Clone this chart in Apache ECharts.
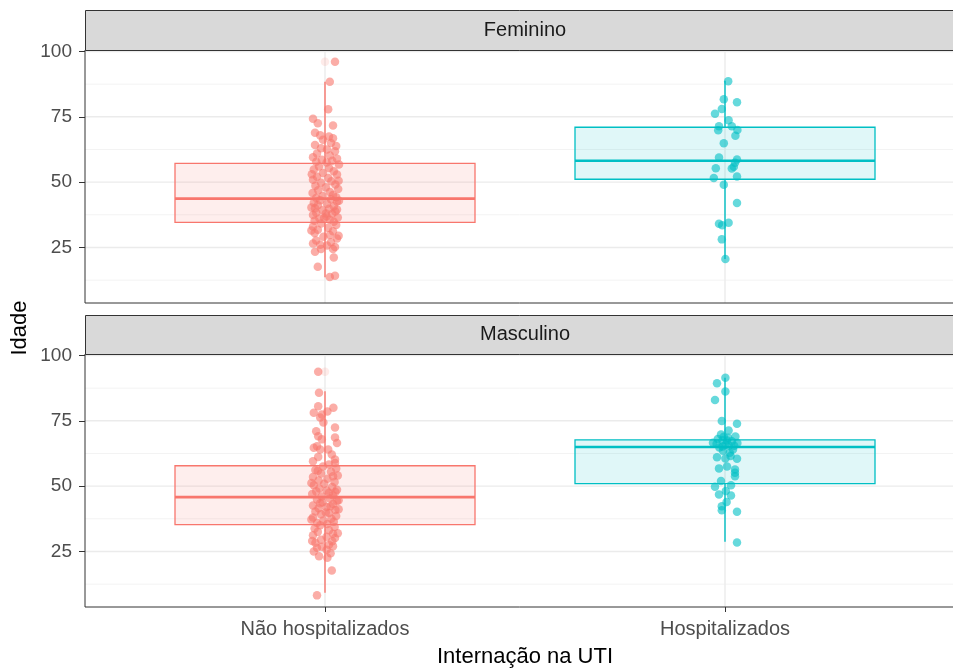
<!DOCTYPE html>
<html>
<head>
<meta charset="utf-8">
<script src="https://cdn.jsdelivr.net/npm/echarts@6/dist/echarts.min.js"></script>
<style>
  html, body { margin: 0; padding: 0; background: #fff; }
  #chart { width: 953px; height: 668px; }
</style>
</head>
<body>
<div id="chart"></div>
<script>
// categories / facets / ticks
var categories = ['Não hospitalizados', 'Hospitalizados'];
var facets = ['Feminino', 'Masculino'];
var yTicks = [25, 50, 75, 100];
var yMinor = [12.5, 37.5, 62.5, 87.5];

// box stats: [q1, median, q3, lower whisker, upper whisker]
var boxFemNao = [34.6, 43.7, 57.2, 13.6, 88.4];
var boxFemHosp = [51.1, 58.2, 71.0, 20.6, 88.8];
var boxMascNao = [35.3, 45.8, 57.8, 9.2, 86.3];
var boxMascHosp = [51.0, 65.0, 67.7, 28.7, 91.5];

// boxplot outliers
var outFemNao = [96.1];
var outMascNao = [93.8];

// jittered points: [horizontal jitter, idade]
var ptsFemNao = [
  [0.025, 96.1], [0.012, 88.4], [0.008, 77.9], [-0.03, 74.3], [-0.018, 72.5], [0.02, 71.7], [-0.025, 68.9],
  [0.01, 67.5], [0.02, 66.8], [-0.005, 66.2], [0.015, 65], [-0.025, 64.2], [-0.01, 63], [0.005, 62.5],
  [0.025, 61.8], [-0.02, 61], [0.012, 60.2], [-0.03, 59.5], [0.03, 59], [-0.008, 58.6], [0.018, 58.2],
  [-0.022, 57.8], [0.004, 57.5], [-0.012, 67.9], [0.028, 63.8],
  [0.035, 56.8], [-0.015, 56], [0.01, 55.4], [-0.028, 54.8], [0.022, 54.2], [-0.005, 53.5], [0.03, 52.9],
  [-0.02, 52.1], [0.008, 51.6], [-0.03, 50.9], [0.016, 50.3], [-0.01, 49.8], [0.026, 49.1], [-0.024, 48.6],
  [0.002, 48], [0.033, 47.4], [-0.017, 46.9], [0.012, 46.2], [-0.031, 45.8], [0.02, 45.1], [-0.006, 44.7],
  [0.028, 44.2], [-0.022, 43.9], [0.034, 50.5], [-0.033, 53],
  [0.015, 43.5], [-0.012, 43.1], [0.03, 42.6], [-0.028, 42.1], [0.005, 41.7], [-0.018, 41.2], [0.022, 40.8],
  [-0.034, 40.3], [0.01, 39.8], [-0.006, 39.2], [0.026, 38.8], [-0.022, 38.3], [0.018, 37.9], [-0.03, 37.4],
  [0.004, 36.9], [0.032, 36.5], [-0.014, 36.1], [0.012, 35.6], [-0.026, 35.2], [0.022, 34.8], [0.035, 42.9],
  [-0.025, 40], [0.002, 38], [-0.002, 36.3], [0.03, 39.5],
  [-0.01, 34.2], [0.028, 33.6], [-0.03, 33], [0.008, 32.5], [-0.018, 31.8], [0.02, 31.2], [-0.026, 30.5],
  [0.012, 29.8], [-0.004, 29.1], [0.03, 28.4], [-0.022, 27.7], [0.015, 27], [-0.03, 26.5], [0.005, 25.8],
  [0.025, 25.2], [-0.01, 24.4], [0.02, 24.4], [-0.025, 23.4], [0.022, 21.2], [-0.018, 17.6], [0.012, 13.7],
  [0.025, 14.2], [0.034, 29.5], [-0.034, 31.5], [-0.012, 26]
];
var ptsFemHosp = [
  [0.008, 88.6], [-0.003, 81.7], [0.03, 80.6], [-0.008, 78], [-0.025, 76.2], [0.009, 73.7], [0.017, 71.4],
  [-0.015, 71.4], [0.031, 70], [-0.017, 69.9], [0.026, 67.8], [-0.003, 64.9], [-0.015, 59.4], [0.03, 58.7],
  [0.025, 57.4], [0.022, 55.9], [0.017, 55.2], [-0.023, 55.3], [-0.028, 51.6], [0.03, 52.2], [-0.003, 49],
  [0.03, 42], [-0.015, 34.1], [-0.007, 33.5], [0.009, 34.5], [-0.008, 28.1], [0.001, 20.6]
];
var ptsMascNao = [
  [-0.017, 93.8], [-0.015, 85.7], [-0.017, 80.6], [0.006, 78.6], [0.021, 80], [-0.028, 78.1], [-0.008, 77.4],
  [-0.012, 76.3], [-0.004, 74.4], [0.025, 72.4], [0.025, 68.6], [-0.017, 69.1], [-0.008, 67.9], [-0.02, 65.3],
  [-0.028, 64.7], [-0.012, 64], [-0.017, 61.2], [0.008, 64], [0.017, 62.1], [0.025, 60.2], [0.025, 58.9],
  [-0.03, 59.5], [0.01, 58.3], [0.03, 66.5], [-0.022, 71],
  [-0.005, 57.5], [0.028, 56.8], [-0.024, 56.2], [0.015, 55.5], [-0.01, 54.8], [0.032, 54.1], [-0.03, 53.5],
  [0.006, 52.8], [-0.016, 52.2], [0.024, 51.6], [-0.002, 50.9], [-0.028, 50.3], [0.018, 49.7], [-0.014, 49.1],
  [0.03, 48.6], [-0.022, 48], [0.01, 47.5], [-0.032, 47], [0.02, 46.5], [-0.008, 46], [0.02, 53.8],
  [-0.034, 51.2], [0.004, 48.3], [-0.018, 55.9], [0.026, 47.8],
  [0.012, 45.4], [-0.02, 44.9], [0.03, 44.3], [-0.006, 43.8], [0.02, 43.2], [-0.03, 42.6], [0.004, 42],
  [-0.016, 41.5], [0.026, 40.9], [-0.024, 40.3], [0.01, 39.7], [-0.01, 39.2], [0.028, 38.6], [-0.03, 38],
  [0.016, 37.5], [-0.004, 36.9], [0.022, 36.4], [-0.02, 35.9], [0.006, 35.5], [0.034, 44.6], [0.034, 41.2],
  [-0.034, 37.2], [-0.012, 43.5], [0.002, 39.9], [0.014, 42.3],
  [-0.012, 35], [0.024, 34.4], [-0.026, 33.8], [0.01, 33.1], [-0.018, 32.5], [0.02, 31.8], [-0.03, 31.2],
  [0.004, 30.6], [0.025, 30.2], [-0.01, 29.5], [0.018, 28.9], [-0.024, 28.3], [0.01, 27.6], [0.02, 27],
  [-0.02, 26.4], [0.004, 25.7], [-0.028, 25], [0.014, 24.3], [-0.015, 23.2], [0.006, 22.6], [0.017, 17.7],
  [-0.02, 8.2], [0.032, 32], [-0.032, 29], [-0.008, 26.8]
];
var ptsMascHosp = [
  [0.001, 91.5], [-0.02, 89.4], [0.001, 86.2], [-0.025, 83], [-0.008, 74.9], [0.03, 73.9], [0.009, 71.3],
  [-0.01, 69.8], [-0.003, 68.9], [0.008, 68.5], [0.026, 69], [-0.018, 68], [-0.006, 67.6], [0.005, 67.5],
  [0.017, 67.2], [-0.03, 66.6], [0.031, 66.5], [-0.021, 66.2], [0.001, 65.8], [0.01, 65.6], [-0.006, 65.2],
  [0.023, 65.5], [-0.014, 64.8], [0.02, 64], [-0.005, 63.5], [0.012, 62.8], [-0.02, 61.1], [0.001, 60.6],
  [0.014, 61.5], [0.03, 60.5], [-0.015, 56.8], [0.025, 56.4], [0.025, 55.1], [0.025, 53.8], [-0.025, 49.8],
  [0.015, 50.3], [-0.015, 46.8], [0.002, 48.1], [0.015, 46.4], [-0.008, 42.3], [-0.008, 40.8], [0.004, 43.9],
  [0.03, 40.2], [0.03, 28.4], [0.005, 57.5], [-0.01, 52]
];

var colors = ['#F8766D', '#00BFC4'];
var fills = ['rgba(248,118,109,0.12)', 'rgba(0,191,196,0.12)'];
var FONT = '"Liberation Sans", Arial, sans-serif';
var Y_MIN = 3.75, Y_MAX = 100.57, X_MIN = 0.4, X_MAX = 2.6;
var PANEL_TOP = [50, 354], PANEL_H = 253, PANEL_L = 85, PANEL_W = 880;

var panels = [
  { boxes: [boxFemNao, boxFemHosp], outliers: [outFemNao, []], pts: [ptsFemNao, ptsFemHosp] },
  { boxes: [boxMascNao, boxMascHosp], outliers: [outMascNao, []], pts: [ptsMascNao, ptsMascHosp] }
];

var chart = echarts.init(document.getElementById('chart'));

var grids = [], xAxes = [], yAxes = [], series = [], graphics = [];

panels.forEach(function (p, gi) {
  grids.push({
    left: PANEL_L, top: PANEL_TOP[gi], width: PANEL_W, height: PANEL_H,
    outerBoundsMode: 'none', containLabel: false,
    show: true, borderColor: '#333333', borderWidth: 1, backgroundColor: 'transparent', z: 5
  });
  xAxes.push({
    type: 'value', gridIndex: gi, min: X_MIN, max: X_MAX,
    splitLine: { show: false }, axisLine: { show: false },
    axisTick: { show: gi === 1, customValues: [1, 2], length: 5, lineStyle: { color: '#333' } },
    axisLabel: {
      show: gi === 1, customValues: [1, 2], margin: 12,
      color: '#4d4d4d', fontSize: 20, fontFamily: FONT,
      formatter: function (v) { return categories[Math.round(v) - 1]; }
    },
    name: gi === 1 ? 'Internação na UTI' : '', nameLocation: 'middle', nameGap: 39,
    nameTextStyle: { color: '#000', fontSize: 22, fontFamily: FONT }
  });
  yAxes.push({
    type: 'value', gridIndex: gi, min: Y_MIN, max: Y_MAX,
    splitLine: { show: false }, axisLine: { show: false },
    axisTick: { show: true, customValues: yTicks, length: 6, lineStyle: { color: '#333' } },
    axisLabel: { customValues: yTicks, margin: 13, color: '#4d4d4d', fontSize: 19, fontFamily: FONT }
  });

  // background grid lines
  var gl = [];
  yMinor.forEach(function (v) { gl.push([0, v, 0]); });
  yTicks.forEach(function (v) { gl.push([0, v, 1]); });
  [1, 2].forEach(function (c) { gl.push([1, c, 1]); });
  series.push({
    type: 'custom', xAxisIndex: gi, yAxisIndex: gi, silent: true, z: 1,
    data: gl,
    renderItem: function (params, api) {
      var kind = api.value(0), v = api.value(1), major = api.value(2);
      var a, b;
      if (kind === 0) { a = api.coord([X_MIN, v]); b = api.coord([X_MAX, v]); }
      else { a = api.coord([v, Y_MIN]); b = api.coord([v, Y_MAX]); }
      return {
        type: 'line',
        shape: { x1: a[0], y1: a[1], x2: b[0], y2: b[1] },
        style: { stroke: major ? '#ebebeb' : '#f3f3f3', lineWidth: major ? 1.4 : 1 }
      };
    }
  });

  p.pts.forEach(function (pts, ci) {
    series.push({
      type: 'scatter', xAxisIndex: gi, yAxisIndex: gi, z: 3, silent: true,
      symbolSize: 8.5,
      itemStyle: { color: colors[ci], opacity: 0.6 },
      data: pts.map(function (d) { return [ci + 1 + d[0], d[1]]; })
    });
    series.push({
      type: 'scatter', xAxisIndex: gi, yAxisIndex: gi, z: 2, silent: true,
      symbolSize: 8.5,
      itemStyle: { color: colors[ci], opacity: 0.15 },
      data: p.outliers[ci].map(function (v) { return [ci + 1, v]; })
    });
  });

  series.push({
    type: 'custom', xAxisIndex: gi, yAxisIndex: gi, z: 4, silent: true,
    data: p.boxes.map(function (b, ci) { return [ci + 1, b[0], b[1], b[2], b[3], b[4], ci]; }),
    renderItem: function (params, api) {
      var x = api.value(0), q1 = api.value(1), med = api.value(2), q3 = api.value(3);
      var lo = api.value(4), hi = api.value(5), ci = api.value(6);
      var tl = api.coord([x - 0.375, q3]), br = api.coord([x + 0.375, q1]);
      var mL = api.coord([x - 0.375, med]), mR = api.coord([x + 0.375, med]);
      var wHi = api.coord([x, hi]), wLo = api.coord([x, lo]);
      var c = colors[ci];
      return {
        type: 'group',
        children: [
          { type: 'line', shape: { x1: wHi[0], y1: wHi[1], x2: wHi[0], y2: tl[1] }, style: { stroke: c, lineWidth: 1.4 } },
          { type: 'line', shape: { x1: wLo[0], y1: br[1], x2: wLo[0], y2: wLo[1] }, style: { stroke: c, lineWidth: 1.4 } },
          { type: 'rect', shape: { x: tl[0], y: tl[1], width: br[0] - tl[0], height: br[1] - tl[1] },
            style: { fill: fills[ci], stroke: c, lineWidth: 1.3 } },
          { type: 'line', shape: { x1: mL[0], y1: mL[1], x2: mR[0], y2: mR[1] }, style: { stroke: c, lineWidth: 2.6 } }
        ]
      };
    }
  });

  // facet strip
  var stripTop = gi === 0 ? 10 : 315;
  var stripH = PANEL_TOP[gi] - stripTop;
  graphics.push({
    type: 'rect', left: PANEL_L, top: stripTop, z: 10,
    shape: { width: PANEL_W, height: stripH },
    style: { fill: '#d9d9d9', stroke: '#333333', lineWidth: 1 }
  });
  graphics.push({
    type: 'text', z: 11,
    x: PANEL_L + PANEL_W / 2, y: stripTop + stripH / 2,
    style: { text: facets[gi], fill: '#1a1a1a', font: '20px ' + FONT, textAlign: 'center', textVerticalAlign: 'middle' }
  });
});

graphics.push({
  type: 'text', z: 11, x: 20, y: 328, rotation: Math.PI / 2,
  style: { text: 'Idade', fill: '#000', font: '22px ' + FONT, textAlign: 'center', textVerticalAlign: 'middle' }
});

chart.setOption({
  backgroundColor: '#ffffff',
  animation: false,
  grid: grids,
  xAxis: xAxes,
  yAxis: yAxes,
  series: series,
  graphic: graphics
});
</script>
</body>
</html>
